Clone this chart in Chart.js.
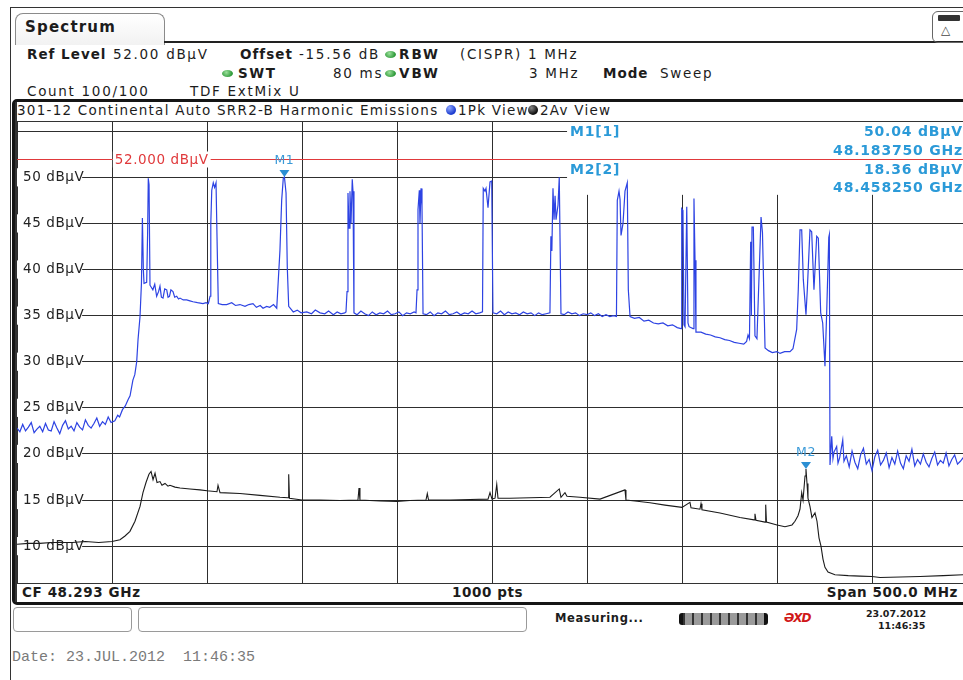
<!DOCTYPE html>
<html><head><meta charset="utf-8">
<script src="https://cdn.jsdelivr.net/npm/chart.js@4.4.0/dist/chart.umd.min.js"></script>
<style>
html,body{margin:0;padding:0;width:963px;height:680px;overflow:hidden;background:#fff;}
body{position:relative;font-family:'DejaVu Sans',Verdana,sans-serif;color:#1c1c1c;}
.a{position:absolute;white-space:pre;line-height:1;}
.b{font-weight:bold;}
.h{font-size:13.5px;letter-spacing:1.7px;}
.hb{font-size:13.5px;letter-spacing:1px;font-weight:bold;}
.dot{position:absolute;width:11px;height:7px;border-radius:50%;background:radial-gradient(circle at 40% 35%,#9be09b,#2f9a3a 70%);}
.mk{color:#2b9ad8;font-weight:bold;font-size:14px;letter-spacing:0.8px;}
.cf{font-weight:bold;font-size:13.5px;letter-spacing:0.6px;}
.tt{font-size:13.5px;letter-spacing:1.25px;}
</style></head>
<body>
<!-- outer frame -->
<div style="position:absolute;left:10px;top:7px;width:1000px;height:700px;border-top:1.5px solid #333;border-left:1.5px solid #333;"></div>
<!-- tab -->
<div style="position:absolute;left:15px;top:13px;width:148px;height:31px;border:1.5px solid #8a8a8a;border-bottom:none;border-radius:8px 8px 0 0;background:linear-gradient(#fff,#f2f2f2);"></div>
<div class="a b" style="left:25px;top:20px;font-size:15px;letter-spacing:1.2px;">Spectrum</div>
<div style="position:absolute;left:164px;top:41px;width:800px;height:2px;background:#222;"></div>
<div style="position:absolute;left:932px;top:11px;width:40px;height:30px;border:1.5px solid #666;border-radius:6px;"></div>
<div style="position:absolute;left:938px;top:15px;width:22px;height:6px;background:#333;border-radius:1px;"></div>
<div class="a" style="left:941px;top:24px;font-size:12px;color:#444;">△</div>

<!-- header rows -->
<div class="a hb" style="left:27px;top:48px;">Ref Level</div>
<div class="a h" style="left:113px;top:48px;">52.00 dBµV</div>
<div class="a hb" style="left:240px;top:48px;">Offset</div>
<div class="a h" style="left:299px;top:48px;">-15.56 dB</div>
<div class="dot" style="left:385px;top:51px;"></div>
<div class="a hb" style="left:399px;top:48px;letter-spacing:2px;">RBW</div>
<div class="a h" style="left:460px;top:48px;">(CISPR) 1 MHz</div>

<div class="dot" style="left:222px;top:70px;"></div>
<div class="a hb" style="left:238px;top:67px;letter-spacing:1.6px;">SWT</div>
<div class="a h" style="left:333px;top:67px;">80 ms</div>
<div class="dot" style="left:385px;top:70px;"></div>
<div class="a hb" style="left:399px;top:67px;letter-spacing:2px;">VBW</div>
<div class="a h" style="left:529px;top:67px;">3 MHz</div>
<div class="a hb" style="left:603px;top:67px;">Mode</div>
<div class="a h" style="left:660px;top:67px;">Sweep</div>

<div class="a h" style="left:27px;top:85px;">Count 100/100</div>
<div class="a h" style="left:190px;top:85px;">TDF ExtMix U</div>

<!-- plot frame -->
<div style="position:absolute;left:12px;top:99px;width:1000px;height:506px;border:3px solid #151515;border-radius:5px;box-sizing:border-box;"></div>
<div style="position:absolute;left:15px;top:121px;width:960px;height:1px;background:#333;"></div>
<div style="position:absolute;left:15px;top:102px;width:1.5px;height:500px;background:#333;"></div>
<div class="a tt" style="left:17px;top:104px;">301-12 Continental Auto SRR2-B Harmonic Emissions</div>
<div style="position:absolute;left:446px;top:105px;width:10px;height:10px;border-radius:50%;background:radial-gradient(circle at 35% 30%,#8fa8ff,#1f3fd0 65%);"></div>
<div class="a tt" style="left:458px;top:104px;">1Pk View</div>
<div style="position:absolute;left:528px;top:105px;width:10px;height:10px;border-radius:50%;background:radial-gradient(circle at 35% 30%,#888,#111 65%);"></div>
<div class="a tt" style="left:540px;top:104px;">2Av View</div>

<canvas id="c" width="950" height="461" style="position:absolute;left:17px;top:122px;"></canvas>

<!-- marker info -->
<div class="a mk" style="left:570px;top:124px;">M1[1]</div>
<div class="a mk" style="right:0px;top:124px;">50.04 dBµV</div>
<div class="a mk" style="right:0px;top:143px;">48.183750 GHz</div>
<div class="a mk" style="left:570px;top:162px;">M2[2]</div>
<div class="a mk" style="right:0px;top:162px;">18.36 dBµV</div>
<div class="a mk" style="right:0px;top:180px;">48.458250 GHz</div>

<!-- bottom info row -->
<div style="position:absolute;left:15px;top:583px;width:960px;height:1px;background:#333;"></div>
<div class="a cf" style="left:22px;top:586px;">CF 48.293 GHz</div>
<div class="a cf" style="left:452px;top:586px;">1000 pts</div>
<div class="a cf" style="right:5px;top:586px;">Span 500.0 MHz</div>

<!-- status bar -->
<div style="position:absolute;left:13px;top:607px;width:117px;height:23px;border:1px solid #9a9a9a;border-radius:4px;"></div>
<div style="position:absolute;left:138px;top:607px;width:387px;height:23px;border:1px solid #9a9a9a;border-radius:4px;"></div>
<div class="a b" style="left:555px;top:613px;font-size:11.5px;letter-spacing:0.6px;">Measuring...</div>
<div style="position:absolute;left:679px;top:613px;width:89px;height:12px;border-radius:3px;background:repeating-linear-gradient(90deg,#333 0 2px,#9a9a9a 2px 9px);border-left:4px solid #111;border-right:4px solid #111;box-sizing:border-box;"></div>
<div class="a b" style="left:784px;top:612px;font-size:12px;color:#d01818;font-style:italic;letter-spacing:-1px;">ƏXD</div>
<div class="a b" style="left:866px;top:609px;font-size:9.5px;">23.07.2012</div>
<div class="a b" style="left:878px;top:621px;font-size:9.5px;">11:46:35</div>

<div class="a" style="left:12px;top:650px;font-family:'Liberation Mono',monospace;font-size:15px;color:#7a7a7a;">Date: 23.JUL.2012  11:46:35</div>

<script>
// ---- data (x = sweep point index 0..1000, y = level in dBµV) ----
const pkPts = [0,3,6,9,12,15,18,21,24,27,30,33,36,39,42,45,48,51,54,57,60,63,66,69,72,75,78,81,84,87,90,93,96,99,
103,106,108,111,114,117,119,122,124,126,127.4,129.5,131,132,133,133.7,136.5,137.5,138.2,139,140,143,145,147,149,150.5,152,153.7,155.5,157.6,159,160.5,162,164.2,166,168.1,170,171.6,175,178.6,182,185.3,190,195.8,199,201.4,
203.2,204,205,206.6,208,209.5,210.8,211.9,216,220.7,226,230,234.7,240,244,248.4,252,256,259,262.8,266,270,273.4,
276.8,278.6,280.3,281.5,283.2,284.5,286,290.8,295,299,305,310,314,319,324,328,333,337,341,345,
346.3,347.4,348.4,349.5,350.5,351.6,352.9,353.7,354.7,358,362,366,370,374,378,382,386,390,394,398,402,406,410,414,418,
420,421.1,422.1,423.5,424.2,425.3,426.3,427.4,431,435,439,443,447,451,455,459,463,467,471,475,479,483,487,
490,490.8,492.6,493.7,495.8,497.9,499.7,501,505,509,513,517,521,525,529,533,537,541,545,549,553,557,
561,562,563,564.2,565.3,566.4,567.4,569.5,570.8,572.6,576,580,584,588,592,596,600,604,608,612,616,620,624,628,
631,631.9,633.7,634.8,635.8,637.9,640,642.4,643.5,645.3,650,655,660,665,670,675,680,685,690,695,
699,699.7,701,702.1,703.2,705,706.3,707.4,711.6,712.6,713.7,714.7,720,725,730,735,740,745,750,755,760,765,
768,769.5,771,772.3,773,773.7,775.1,776.8,778.9,783.2,784.7,787.4,791,795,800,803.2,808,813.7,816.8,
820.7,822.4,824.2,826,827.7,830.5,831.9,834.7,836.5,838.9,841.8,843.5,846,848.1,850.5,852.3,854.5,855.1,855.8,
857.6,858.9,860,862.8,864.2,866,869.2,870.5,873,876,879,882,885,888,891,894,897,900,903,906,909,912,915,918,921,924,927,930,
933,936,939,942,945,948,951,954,957,960,963,966,969,972,975,978,981,984,987,990,993,996,999];
const pkDb = [22.8,22.4,23.2,22.5,22.9,23.4,22.3,22.7,23.0,22.4,23.3,22.6,22.5,23.5,22.8,22.2,23.1,23.6,22.7,23.0,22.5,23.4,22.9,22.6,23.7,23.1,22.8,23.3,23.9,23.0,23.5,23.2,24.0,23.4,
23.6,24.2,24.0,24.8,25.2,25.9,26.3,28.0,28.6,30.0,32.4,34.9,38.5,45.6,40.0,38.5,38.6,44.0,49.9,49.2,38.3,37.8,38.4,37.1,37.6,38.2,37.0,36.9,37.9,37.8,37.0,37.1,37.8,37.6,37.0,37.1,36.8,36.9,36.7,36.7,36.6,36.5,36.4,36.3,36.4,36.3,
37.1,45.0,48.6,49.4,48.9,49.4,42.1,36.3,36.2,36.2,36.4,36.1,36.2,36.0,36.2,36.3,35.9,36.1,35.8,36.0,35.9,36.2,35.8,
42.1,47.5,49.9,50.04,48.3,40.3,36.0,35.4,35.6,35.3,35.4,35.2,35.6,35.3,35.2,35.5,35.1,35.4,35.2,35.3,
35.4,37.6,48.3,44.5,48.5,45.0,49.8,48.5,35.3,35.1,35.5,35.2,35.0,35.4,35.1,35.3,35.2,35.5,35.1,35.2,35.4,35.0,35.3,35.2,35.4,
35.3,37.8,46.5,48.6,45.0,48.8,47.0,35.2,35.1,35.4,35.0,35.3,35.2,35.5,35.1,35.2,35.4,35.1,35.3,35.2,35.5,35.2,35.3,
35.4,48.8,48.5,48.8,46.7,49.5,49.6,35.3,35.2,35.5,35.1,35.4,35.2,35.3,35.1,35.4,35.2,35.3,35.0,35.3,35.1,35.2,
35.3,43.6,42.0,48.8,45.4,48.0,45.4,47.0,50.0,35.2,35.1,35.4,35.2,35.3,35.0,35.2,35.1,35.3,35.0,35.2,34.9,35.1,34.9,35.0,
34.9,47.5,48.5,47.6,43.7,45.0,48.5,49.4,37.8,34.9,34.7,34.8,34.4,34.5,34.2,34.1,34.2,33.9,34.0,33.7,
33.6,46.6,46.4,34.0,33.8,46.8,34.2,33.8,33.6,47.7,41.0,33.2,33.2,33.0,32.9,32.7,32.6,32.4,32.3,32.1,32.0,31.9,
32.2,32.9,32.5,43.0,35.0,44.6,44.6,32.8,32.5,45.7,44.0,31.5,31.2,31.0,31.1,30.9,31.1,31.1,31.4,
33.5,37.8,44.3,44.3,38.9,35.1,37.8,44.3,44.1,37.8,43.6,43.4,35.3,34.2,29.5,35.3,43.5,43.8,18.8,
21.9,19.5,20.2,20.8,19.0,19.6,21.5,19.2,19.8,18.6,20.3,19.1,18.4,19.9,20.6,18.9,19.4,18.2,19.7,20.4,18.8,19.3,20.1,18.5,19.6,18.9,20.3,19.0,
18.4,19.8,19.2,20.5,18.7,19.4,18.9,20.0,19.1,18.6,19.5,20.2,18.8,19.3,19.0,20.1,18.7,19.4,19.9,18.9,19.2,19.6,19.0];

const avPts = [0,12,24,36,45,58,72,86,100,108.4,113.7,118.9,124.2,129.5,132.6,135.8,138.9,141.1,143.2,145.3,147.4,150.5,152.6,155.8,158.9,161,166.3,171.6,182.1,192.6,200,
210.5,211.6,213.7,234.7,255.8,276.8,285.3,286,286.8,300,318.9,340,358.9,360,361,382,400,413.7,430.5,431.9,433.2,455.8,476.8,495.8,497.9,500,503.2,505,506.3,
518.9,540,561,570.8,572.6,576.8,578.9,592.6,613.7,640,641,650.5,666.3,682.1,700,708.4,709.5,718.9,720,721,740,761,775.8,776.8,777.9,787.4,788.1,788.9,
800,808.4,815.8,818.9,822.1,824.2,826,827.4,829.5,830.5,831.6,832.6,834.7,836.8,840,842.1,844.2,846.3,848.4,850.5,853.7,861,875,887.4,900,908.4,930,950.5,975,995.8,1000];
const avDb = [10.2,10.3,10.3,10.4,10.4,10.4,10.5,10.4,10.5,10.7,11.1,11.6,12.7,14.3,15.8,16.9,17.8,18.1,17.2,17.9,16.9,17.0,16.6,16.8,16.5,16.6,16.4,16.3,16.2,16.1,16.0,
15.9,16.6,15.8,15.7,15.5,15.3,15.25,17.8,15.2,15.0,15.0,14.95,15.0,16.3,15.0,14.9,14.85,14.95,15.0,15.7,15.0,15.0,15.05,15.1,15.8,15.1,15.2,16.7,15.2,
15.2,15.25,15.3,16.2,15.3,15.8,15.4,15.3,15.1,16.1,15.0,14.9,14.7,14.45,14.2,14.75,14.15,14.0,14.6,13.95,13.6,13.1,12.85,13.5,12.8,12.6,14.5,12.6,
12.3,12.1,12.3,12.7,13.3,14.0,15.8,15.0,17.6,18.36,16.8,15.2,14.3,13.1,13.6,12.7,10.9,10.0,8.6,7.7,7.2,6.9,6.8,6.75,6.7,6.6,6.65,6.7,6.8,6.9,6.9];

const xGridPts = [0,100,200,300,400,500,600,700,800,900,1000];
const yTickValues = [55,50,45,40,35,30,25,20,15,10];
const yLabelValues = [50,45,40,35,30,25,20,15,10];
const yUnit = 'dBµV';
const refLevel = 52;
const refLabel = '52.000 dBµV';
const markers = [
  {name:'M1', pt:281.5, db:50.04},
  {name:'M2', pt:830.5, db:18.36}
];

const overlay = {
  id:'overlay',
  beforeDraw(chart){ chart.ctx.letterSpacing = '0.6px'; },
  beforeDatasetsDraw(chart, args, opts){
    const {ctx, chartArea:a, scales:{x,y}} = chart;
    const bx = x.getPixelForValue(opts.boxFromPt), by = y.getPixelForValue(opts.boxDownToDb);
    ctx.save(); ctx.fillStyle = '#fff';
    ctx.fillRect(bx, a.top, a.right - bx + 20, by - a.top);
    ctx.restore();
  },
  afterDatasetsDraw(chart, args, opts){
    const {ctx, chartArea:a, scales:{x,y}} = chart;
    ctx.save();
    const yr = Math.round(y.getPixelForValue(refLevel)) + 0.5;
    ctx.strokeStyle = '#e0393b'; ctx.lineWidth = 1;
    ctx.beginPath(); ctx.moveTo(a.left, yr); ctx.lineTo(a.right, yr); ctx.stroke();
    ctx.font = '13.5px "DejaVu Sans"'; ctx.letterSpacing = '0.6px';
    const lx = x.getPixelForValue(opts.refLabelPt);
    const w = ctx.measureText(refLabel).width;
    ctx.fillStyle = '#fff'; ctx.fillRect(lx - 2, yr - 8, w + 4, 16);
    ctx.fillStyle = '#e0393b'; ctx.textBaseline = 'middle'; ctx.textAlign = 'left';
    ctx.fillText(refLabel, lx, yr + 0.5);
    markers.forEach(m => {
      const px = x.getPixelForValue(m.pt), py = y.getPixelForValue(m.db);
      ctx.fillStyle = '#2b8fd3';
      ctx.beginPath(); ctx.moveTo(px - 5, py - 7); ctx.lineTo(px + 5, py - 7); ctx.lineTo(px, py); ctx.closePath(); ctx.fill();
      ctx.font = '12.5px "DejaVu Sans"'; ctx.textAlign = 'center'; ctx.textBaseline = 'middle';
      ctx.fillStyle = '#3a9ad8';
      ctx.fillText(m.name, px, py - 16);
    });
    ctx.restore();
  }
};

const noPad = s => { s.paddingLeft = 0; s.paddingRight = 0; s.paddingTop = 0; s.paddingBottom = 0; };

new Chart(document.getElementById('c'), {
  type: 'line',
  data: {
    datasets: [
      { label:'1Pk View', data: pkPts.map((p,i)=>({x:p, y:pkDb[i]})), borderColor:'#2d43e3', borderWidth:1.2, pointRadius:0, tension:0 },
      { label:'2Av View', data: avPts.map((p,i)=>({x:p, y:avDb[i]})), borderColor:'#1b1b1b', borderWidth:1.1, pointRadius:0, tension:0 }
    ]
  },
  options: {
    responsive:false, animation:false, devicePixelRatio:1,
    layout:{padding:0},
    plugins:{ legend:{display:false}, tooltip:{enabled:false},
      overlay:{ boxFromPt:579, boxDownToDb:48.1, refLabelPt:103 } },
    scales:{
      x:{ type:'linear', min:0, max:1000,
        afterBuildTicks: s => { s.ticks = xGridPts.map(v=>({value:v})); },
        afterFit: s => { s.height = 0; noPad(s); },
        ticks:{display:false}, border:{display:false},
        grid:{color:'#2e2e2e', lineWidth:1, drawTicks:false} },
      y:{ type:'linear', position:'left', min:6, max:56,
        afterBuildTicks: s => { s.ticks = yTickValues.map(v=>({value:v})); },
        afterFit: s => { s.width = 0; noPad(s); },
        border:{display:false},
        grid:{color:'#2e2e2e', lineWidth:1, drawTicks:false},
        ticks:{ mirror:true, padding:6, color:'#222', font:{family:'DejaVu Sans', size:13.5},
          showLabelBackdrop:true,
          backdropColor: c => yLabelValues.includes(c.tick && c.tick.value) ? '#fff' : 'rgba(0,0,0,0)',
          backdropPadding:{left:6, right:2, top:1, bottom:1},
          callback: v => yLabelValues.includes(v) ? v + ' ' + yUnit : '' } }
    }
  },
  plugins:[overlay]
});
</script>
</body></html>
